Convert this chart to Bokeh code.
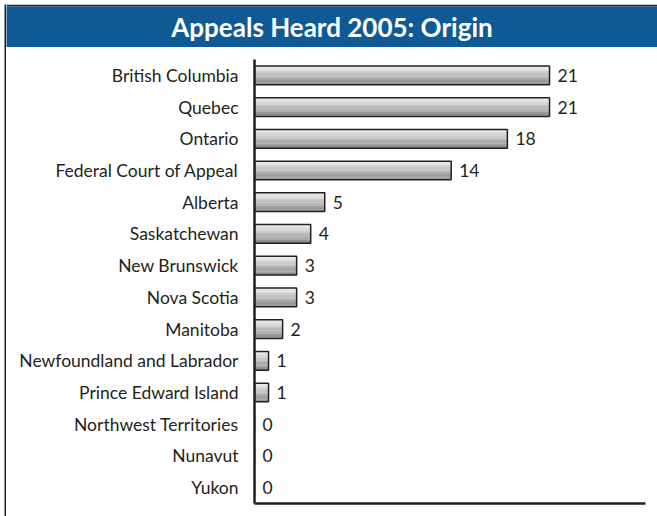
from bokeh.plotting import figure
from bokeh.models import Range1d, FactorRange, ColumnDataSource, Label
from bokeh.layouts import row, column
from bokeh.transform import dodge
from bokeh.core.properties import value
from bokeh.embed import file_html
from bokeh.resources import INLINE

title_text = "Appeals Heard 2005: Origin"
categories = ["British Columbia", "Quebec", "Ontario", "Federal Court of Appeal",
              "Alberta", "Saskatchewan", "New Brunswick", "Nova Scotia", "Manitoba",
              "Newfoundland and Labrador", "Prince Edward Island",
              "Northwest Territories", "Nunavut", "Yukon"]
appeals = [21, 21, 18, 14, 5, 4, 3, 3, 2, 1, 1, 0, 0, 0]
x_max = 27.83

DARK = "#231f20"
BLUE = "#0f5a94"
FONT = "Lato"

src = ColumnDataSource(dict(cat=categories, val=appeals,
                            label=[str(v) for v in appeals]))

# ---- main chart
p = figure(width=651, height=469, output_backend="svg", toolbar_location=None,
           title=None,
           y_range=FactorRange(factors=list(reversed(categories))),
           x_range=Range1d(0, x_max),
           min_border_left=248, min_border_right=12, min_border_top=12,
           min_border_bottom=13, frame_align=False)
p.outline_line_color = None
p.xgrid.visible = False
p.ygrid.visible = False
p.background_fill_color = "white"
p.border_fill_color = "white"

# gradient bars built from stacked strips
bar_h = 0.59
n_strips = 16
step = bar_h / n_strips
top_c, bot_c = 0xEE, 0x88
for k in range(n_strips):
    tt = k / (n_strips - 1)
    g = int(round(top_c + (bot_c - top_c) * tt))
    col = "#%02x%02x%02x" % (g, g, g)
    off = bar_h / 2 - (k + 0.5) * step
    p.hbar(y=dodge("cat", off, range=p.y_range), right="val", left=0,
           height=step * 1.15, source=src, fill_color=col, line_color=None)
p.hbar(y="cat", right="val", left=0, height=bar_h, source=src,
       fill_color=None, line_color=DARK, line_width=1.5)

p.text(x="val", y="cat", text="label", source=src, x_offset=8,
       text_baseline="middle", text_align="left",
       text_font=value(FONT), text_font_size="17.5px", text_color=DARK)

p.yaxis.axis_line_color = DARK
p.yaxis.axis_line_width = 2.5
p.yaxis.major_tick_line_color = None
p.yaxis.minor_tick_line_color = None
p.yaxis.major_tick_out = 0
p.yaxis.major_tick_in = 0
p.yaxis.major_label_standoff = 16
p.yaxis.major_label_text_font = FONT
p.yaxis.major_label_text_font_size = "17.5px"
p.yaxis.major_label_text_color = DARK

p.xaxis.ticker = []
p.xaxis.axis_line_color = DARK
p.xaxis.axis_line_width = 2.5
p.xaxis.major_tick_line_color = None
p.xaxis.minor_tick_line_color = None
p.xaxis.major_label_standoff = 0
p.xaxis.major_tick_out = 0

# ---- title band
t = figure(width=651, height=43, output_backend="svg", toolbar_location=None,
           title=None,
           x_range=Range1d(0, 1), y_range=Range1d(0, 41),
           x_axis_location=None, y_axis_location=None,
           min_border_top=2, min_border_left=0, min_border_right=0,
           min_border_bottom=0, frame_align=False)
t.outline_line_color = None
t.xgrid.visible = False
t.ygrid.visible = False
t.background_fill_color = BLUE
t.border_fill_color = DARK
t.add_layout(Label(x=0.5, y=20.5, text=title_text, text_align="center",
                   text_baseline="middle", text_color="white",
                   text_font=FONT, text_font_style="bold",
                   text_font_size="26px"))

# ---- left frame line
s = figure(width=2, height=512, output_backend="svg", toolbar_location=None,
           title=None,
           x_axis_location=None, y_axis_location=None, min_border=0,
           frame_align=False)
s.outline_line_color = None
s.xgrid.visible = False
s.ygrid.visible = False
s.background_fill_color = DARK
s.border_fill_color = DARK

root = row(s, column(t, p, spacing=0), spacing=0, margin=(4, 0, 0, 4))

open("out.html", "w").write(file_html(root, INLINE))
